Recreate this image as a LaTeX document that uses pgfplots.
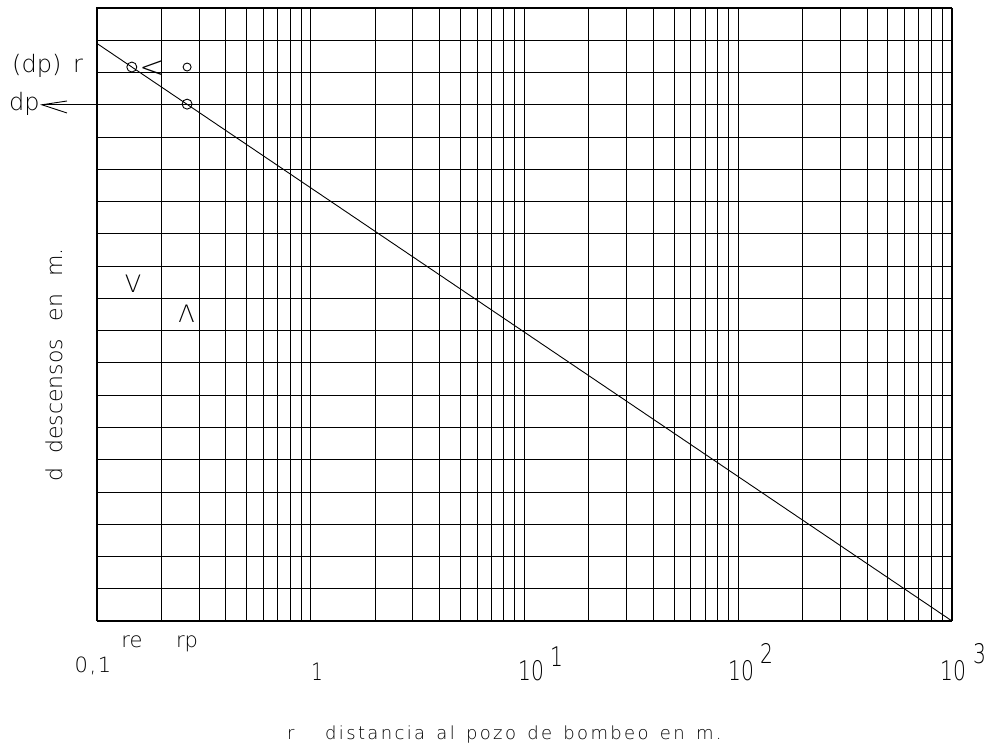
\documentclass[border=0pt]{standalone}
\usepackage{fontspec}
\setmainfont{DejaVu Sans ExtraLight}
\newfontfamily\cadtext{DejaVu Sans ExtraLight}[LetterSpace=13,WordSpace=1.4]
\newfontfamily\cadylab{DejaVu Sans ExtraLight}[WordSpace=2.5]
\newfontfamily\cadspaced{DejaVu Sans ExtraLight}[LetterSpace=8]
\newfontfamily\caddig{DejaVu Sans ExtraLight}[FakeStretch=0.75]
\usepackage{pgfplots}
\pgfplotsset{compat=1.18}
\newcommand\fs[1]{\fontsize{#1}{#1}\selectfont}
\begin{document}
\begin{tikzpicture}
\path[use as bounding box] (-97pt,-128pt) rectangle (889pt,621pt);
\begin{axis}[
  at={(0,0)}, anchor=south west,
  scale only axis, width=855pt, height=613pt,
  xmode=log, xmin=0.1, xmax=1000, ymin=0, ymax=19,
  ytick={0,1,...,19}, xticklabels={,,}, yticklabels={,,},
  grid=both,
  major grid style={black, line width=0.8pt},
  minor grid style={black, line width=0.8pt},
  axis line style={black, line width=1pt},
  tick style={draw=none},
  clip=false,
]
% drawdown against distance (straight line on the semilog grid)
\addplot[black, line width=0.9pt] coordinates {(0.1,17.9) (1000,0)};
% observation points re and rp on the line
\addplot[only marks, mark=o, mark size=5pt, black, mark options={line width=0.9pt}]
  coordinates {(0.1455,17.17) (0.264,16.02)};
% point at rp level with (dp) r
\addplot[only marks, mark=o, mark size=4pt, black, mark options={line width=0.9pt}]
  coordinates {(0.264,17.17)};
\end{axis}
% dp reference line
\draw[black, line width=0.9pt] (-55pt,516.2pt) -- (0pt,516.2pt);
\draw[black, line width=0.9pt] (-30pt,520pt) -- (-55pt,516.2pt) -- (-30pt,508pt);
% annotations
\node[anchor=base west, inner sep=0pt] at (-85pt,548pt) {\fs{24}(dp)};
\node[anchor=base west, inner sep=0pt] at (-24pt,548pt) {\fs{24}r};
\node[anchor=base west, inner sep=0pt] at (-88pt,510pt) {\fs{24}dp};
\node[anchor=center, inner sep=0pt, yshift=-3pt] at (55pt,555pt) {\fs{30}<};
\node[anchor=center, inner sep=0pt] at (36pt,337.5pt) {\fs{24}V};
\node[anchor=center, inner sep=0pt] at (89.5pt,307pt) {\fs{24}Λ};
\node[anchor=base, inner sep=0pt] at (35pt,-27pt) {\fs{21}re};
\node[anchor=base, inner sep=0pt] at (90pt,-27pt) {\fs{21}rp};
% tick labels
\node[anchor=base, inner sep=0pt] at (-4pt,-52pt) {\cadspaced\fs{21}0,1};
\node[anchor=base, inner sep=0pt] at (220pt,-60pt) {\caddig\fs{24}1};
\node[anchor=base west, inner sep=0pt] at (421pt,-60pt) {\caddig\fs{27}10};
\node[anchor=base west, inner sep=0pt] at (453pt,-46pt) {\caddig\fs{27}1};
\node[anchor=base west, inner sep=0pt] at (631pt,-60pt) {\caddig\fs{27}10};
\node[anchor=base west, inner sep=0pt] at (663pt,-43pt) {\caddig\fs{27}2};
\node[anchor=base west, inner sep=0pt] at (843pt,-60pt) {\caddig\fs{27}10};
\node[anchor=base west, inner sep=0pt] at (876pt,-43pt) {\caddig\fs{27}3};
% axis titles
\node[anchor=base west, inner sep=0pt] at (190pt,-119pt) {\cadtext\fs{18}r};
\node[anchor=base west, inner sep=0pt] at (228pt,-119pt) {\cadtext\fs{18}distancia al pozo de bombeo en m.};
\node[anchor=base, inner sep=0pt, rotate=90] at (-34pt,256pt) {\cadylab\fs{22}d\hspace{14pt}descensos en m.};
\end{tikzpicture}
\end{document}
